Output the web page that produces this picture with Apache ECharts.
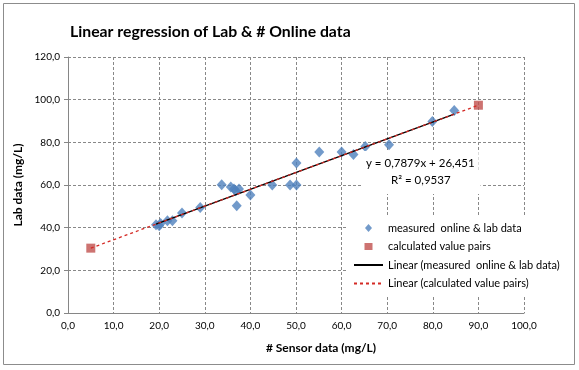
<!DOCTYPE html>
<html><head><meta charset="utf-8">
<script src="https://cdn.jsdelivr.net/npm/echarts@6/dist/echarts.min.js"></script>
<style>html,body{margin:0;padding:0;background:#fff}#c{width:579px;height:370px}</style>
</head><body><div id="c"></div>
<script>
// Measured online & lab data: [sensor, lab]
const measured = [
  [19.3,41.4],[20.0,40.9],[20.3,42.0],[21.8,43.3],[22.9,43.3],[25.0,46.9],[29.0,49.5],
  [33.7,60.1],[35.7,59.1],[36.4,58.1],[36.8,57.3],[37.5,58.1],[37.0,50.3],[40.0,55.3],
  [44.8,60.0],[48.7,60.0],[50.1,60.0],[50.1,70.3],[55.1,75.5],[60.0,75.5],[62.6,74.3],
  [65.2,78.1],[70.4,78.9],[79.9,89.8],[84.7,94.9]
];
// Calculated value pairs
const calculated = [[5,30.4],[90,97.4]];
// Regression shown on chart
const slope = 0.7879, intercept = 26.451;
const eqText = 'y = 0,7879x + 26,451';
const r2Text = 'R\u00B2 = 0,9537';
const xTicks = [0,10,20,30,40,50,60,70,80,90,100];
const yTicks = [0,20,40,60,80,100,120];
const names = ['measured  online & lab data','calculated value pairs',
  'Linear (measured  online & lab data)','Linear (calculated value pairs)'];

const xs = measured.map(p=>p[0]);
const xmin = Math.min(...xs), xmax = Math.max(...xs);
const fitMeasured = [[xmin, slope*xmin+intercept],[xmax, slope*xmax+intercept]];
const fitCalc = calculated.slice();

// legend icons (box 29 x 8)
const B = 'M0,0M29,8';
const iconDiamond = 'path://' + B + 'M14.5,0L18,4L14.5,8L11,4Z';
const iconSquare  = 'path://' + B + 'M10.5,0.5L18.5,0.5L18.5,7.5L10.5,7.5Z';

const RED = '#d42a25';
const fmt = v => v.toFixed(1).replace('.', ',');
const FONT = 'Lato';
const chart = echarts.init(document.getElementById('c'), null, {renderer:'canvas'});
chart.setOption({
  animation:false,
  textStyle:{fontFamily:FONT},
  graphic:[{type:'rect', shape:{x:3.5,y:3.5,width:571,height:361}, style:{fill:'none',stroke:'#8c8c8c',lineWidth:1}, z:-1}],
  title:[
    {text:'Linear regression of Lab & # Online data', left:65, top:19,
     textStyle:{fontFamily:FONT,fontWeight:'bold',fontSize:15.8,color:'#000'}},
    {text:eqText, left:362, top:151,
     backgroundColor:'#fff', padding:[5,4,3,4],
     textStyle:{fontFamily:FONT,fontSize:11.5,color:'#000',lineHeight:15,fontWeight:'normal'}},
    {text:r2Text, left:361, top:172,
     backgroundColor:'#fff', padding:[1,30,6,30],
     textStyle:{fontFamily:FONT,fontSize:11.5,color:'#000',lineHeight:15,fontWeight:'normal'}}
  ],
  legend:{
    orient:'vertical', left:348, top:216, width:212,
    backgroundColor:'#fff', padding:[5,8,6,5],
    itemWidth:29, itemHeight:8, itemGap:4.5,
    textStyle:{fontFamily:FONT,fontSize:11,color:'#000',lineHeight:14},
    data:[
      {name:names[0], icon:iconDiamond, itemStyle:{color:'#4f81bd',borderWidth:0}},
      {name:names[1], icon:iconSquare, itemStyle:{color:'#c0504d',borderWidth:0}},
      {name:names[2], itemStyle:{opacity:0}},
      {name:names[3], itemStyle:{opacity:0}}
    ]
  },
  grid:{left:68, right:55, top:57, bottom:57, containLabel:false},
  xAxis:{
    type:'value', min:xTicks[0], max:xTicks[xTicks.length-1], interval:10,
    name:'# Sensor data (mg/L)', nameLocation:'middle', nameGap:29,
    nameTextStyle:{fontFamily:FONT,fontWeight:'bold',fontSize:12,color:'#000',padding:[0,0,0,50]},
    axisLine:{show:true,lineStyle:{color:'#868686'}},
    axisTick:{show:false},
    axisLabel:{formatter:fmt, fontSize:10, color:'#000', margin:8},
    splitLine:{show:true,lineStyle:{color:'#888',type:[3,2]}}
  },
  yAxis:{
    type:'value', min:yTicks[0], max:yTicks[yTicks.length-1], interval:20,
    name:'Lab data (mg/L)', nameLocation:'middle', nameGap:33, nameRotate:90,
    nameTextStyle:{fontFamily:FONT,fontWeight:'bold',fontSize:12,color:'#000'},
    axisLine:{show:true,lineStyle:{color:'#868686'}},
    axisTick:{show:true,length:4,lineStyle:{color:'#868686'}},
    axisLabel:{formatter:fmt, fontSize:10, color:'#000', margin:8},
    splitLine:{show:true,lineStyle:{color:'#888',type:[3,2]}}
  },
  series:[
    {name:names[0], type:'scatter', data:measured, symbol:'diamond', symbolSize:[10,11],
     itemStyle:{color:'#4f81bd'}, z:3},
    {name:names[1], type:'scatter', data:calculated, symbol:'rect', symbolSize:9,
     itemStyle:{color:'#c0504d'}, z:3},
    {name:names[2], type:'line', data:fitMeasured, symbol:'none', showSymbol:false,
     lineStyle:{color:'#000',width:1.4}, itemStyle:{color:'#000'}, z:4},
    {name:names[3], type:'line', data:fitCalc, symbol:'none', showSymbol:false,
     lineStyle:{color:RED,width:1.3,type:[3,3]}, itemStyle:{color:RED}, z:5}
  ]
});
</script></body></html>
